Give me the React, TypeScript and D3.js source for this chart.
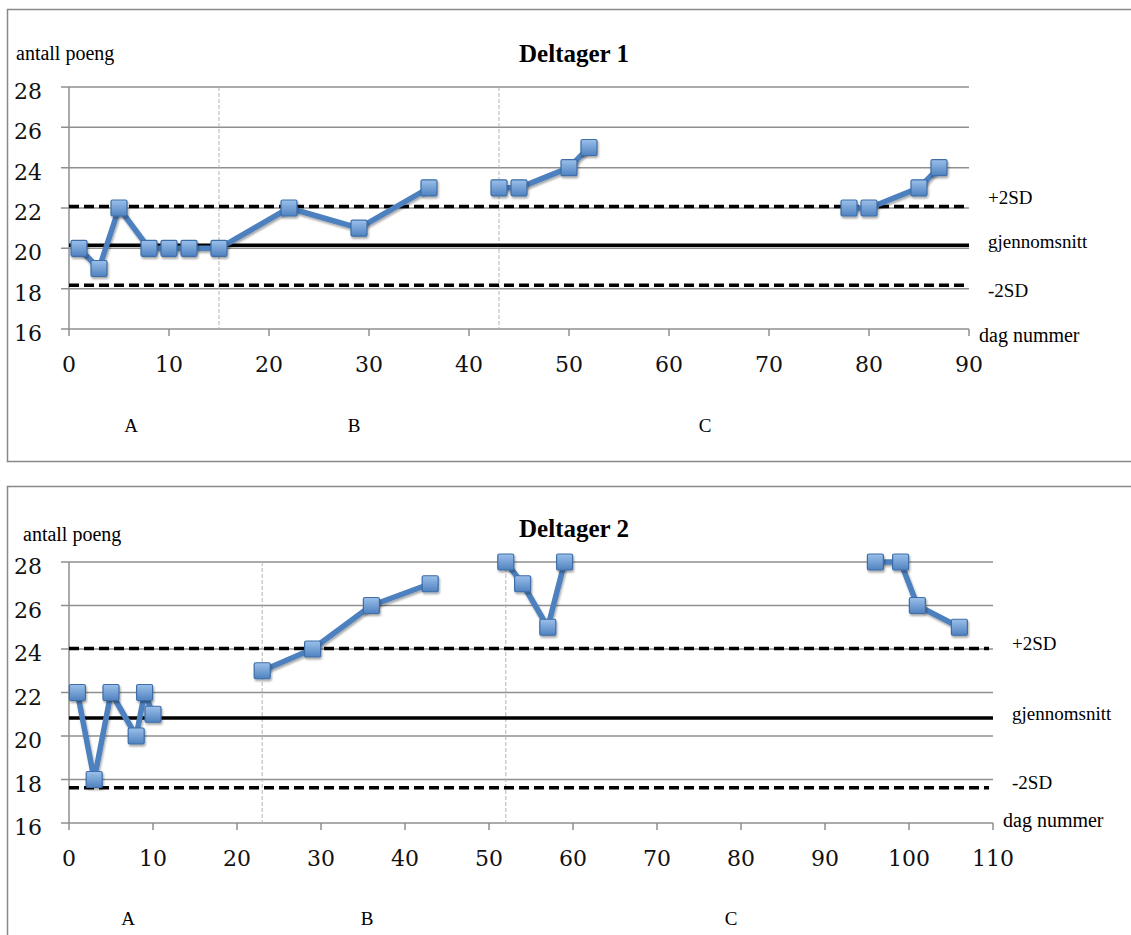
import * as d3 from 'd3';
import React from 'react';

// Deltager 1
const p1Days = [[1, 3, 5, 8, 10, 12, 15, 22, 29, 36], [43, 45, 50, 52], [78, 80, 85, 87]];
const p1Scores = [[20, 19, 22, 20, 20, 20, 20, 22, 21, 23], [23, 23, 24, 25], [22, 22, 23, 24]];
const p1PhaseStarts = [15, 43];
const p1Mean = 20.15;
const p1Plus2SD = 22.07;
const p1Minus2SD = 18.17;
const p1XTicks = [0, 10, 20, 30, 40, 50, 60, 70, 80, 90];

// Deltager 2
const p2Days = [[1, 3, 5, 8, 9, 10], [23, 29, 36, 43], [52, 54, 57, 59], [96, 99, 101, 106]];
const p2Scores = [[22, 18, 22, 20, 22, 21], [23, 24, 26, 27], [28, 27, 25, 28], [28, 28, 26, 25]];
const p2PhaseStarts = [23, 52];
const p2Mean = 20.83;
const p2Plus2SD = 24.02;
const p2Minus2SD = 17.62;
const p2XTicks = [0, 10, 20, 30, 40, 50, 60, 70, 80, 90, 100, 110];

const yTicks = [16, 18, 20, 22, 24, 26, 28];
const phaseNames = ['A', 'B', 'C'];

const GRID = '#8f8f8f';
const LINE = '#4d80be';
const TICK_FONT = '"DejaVu Serif", serif';
const TEXT_FONT = '"Liberation Serif", "Times New Roman", serif';

interface PanelProps {
  title: string;
  days: number[][];
  scores: number[][];
  phaseStarts: number[];
  mean: number;
  plus: number;
  minus: number;
  xTicks: number[];
  layout: {
    boxY: number; boxH: number;
    x0: number; x1: number; yTop: number; yBot: number;
    titleY: number; yLabelX: number; yLabelY: number;
    tickLabelY: number; phaseLabelY: number; phaseLabelX: number[];
    sideX: number; sideY: number[]; dagX: number; dagY: number;
  };
}

const Panel: React.FC<PanelProps> = ({ title, days, scores, phaseStarts, mean, plus, minus, xTicks, layout: L }) => {
  const x = d3.scaleLinear().domain([0, xTicks[xTicks.length - 1]]).range([L.x0, L.x1]);
  const y = d3.scaleLinear().domain([16, 28]).range([L.yBot, L.yTop]);
  const line = d3.line<[number, number]>().x(d => x(d[0])).y(d => y(d[1]));

  return (
    <g>
      <rect x={7.5} y={L.boxY} width={1140} height={L.boxH} fill="white" stroke="#888" strokeWidth={1.5} />
      {/* gridlines + y ticks */}
      {yTicks.map(t => (
        <g key={t}>
          <line x1={L.x0 - 8} x2={L.x1} y1={y(t)} y2={y(t)} stroke={GRID} strokeWidth={1.5} />
          <text x={42} y={y(t) + 12} textAnchor="end" fontFamily={TICK_FONT} fontSize={22} fill="#111">{t}</text>
        </g>
      ))}
      {/* y axis */}
      <line x1={L.x0} x2={L.x0} y1={L.yTop} y2={L.yBot} stroke={GRID} strokeWidth={1.5} />
      {/* x ticks */}
      {xTicks.map(t => (
        <g key={t}>
          <line x1={x(t)} x2={x(t)} y1={L.yBot} y2={L.yBot + 7} stroke={GRID} strokeWidth={1.5} />
          <text x={x(t)} y={L.tickLabelY} textAnchor="middle" fontFamily={TICK_FONT} fontSize={22} fill="#111">{t}</text>
        </g>
      ))}
      {/* phase separators */}
      {phaseStarts.map(p => (
        <line key={p} x1={x(p)} x2={x(p)} y1={L.yTop} y2={L.yBot} stroke="#b5b5b5" strokeWidth={1} strokeDasharray="4,2" />
      ))}
      {/* control lines */}
      <line x1={L.x0} x2={L.x1 - 4} y1={y(plus)} y2={y(plus)} stroke="#000" strokeWidth={3.5} strokeDasharray="10,5" />
      <line x1={L.x0} x2={L.x1} y1={y(mean)} y2={y(mean)} stroke="#000" strokeWidth={3.5} />
      <line x1={L.x0} x2={L.x1 - 4} y1={y(minus)} y2={y(minus)} stroke="#000" strokeWidth={3.5} strokeDasharray="10,5" />
      {/* series */}
      {days.map((seg, i) => (
        <path key={i} d={line(seg.map((d, j) => [d, scores[i][j]] as [number, number])) || ''}
          fill="none" stroke={LINE} strokeWidth={5.5} strokeLinejoin="round" filter="url(#shadow)" />
      ))}
      {days.map((seg, i) => seg.map((d, j) => (
        <rect key={`${i}-${j}`} x={x(d) - 8} y={y(scores[i][j]) - 8} width={16} height={16} rx={1.5}
          fill="url(#markerFill)" stroke="#3d6ea8" strokeWidth={1.2} filter="url(#shadow)" />
      )))}
      {/* texts */}
      <text x={574} y={L.titleY} textAnchor="middle" fontFamily={TEXT_FONT} fontWeight="bold" fontSize={25} fill="#000">{title}</text>
      <text x={L.yLabelX} y={L.yLabelY} fontFamily={TEXT_FONT} fontSize={20} fill="#000">antall poeng</text>
      <text x={L.dagX} y={L.dagY} fontFamily={TEXT_FONT} fontSize={20} fill="#000">dag nummer</text>
      {['+2SD', 'gjennomsnitt', '-2SD'].map((s, i) => (
        <text key={s} x={L.sideX} y={L.sideY[i]} fontFamily={TEXT_FONT} fontSize={19} fill="#000">{s}</text>
      ))}
      {phaseNames.map((n, i) => (
        <text key={n} x={L.phaseLabelX[i]} y={L.phaseLabelY} textAnchor="middle" fontFamily={TEXT_FONT} fontSize={19} fill="#000">{n}</text>
      ))}
    </g>
  );
};

export default function App() {
  return (
    <div style={{ position: 'absolute', left: 0, top: 0, background: 'white' }}>
      <svg width={1131} height={935} style={{ display: 'block' }}>
        <defs>
          <linearGradient id="markerFill" x1="0" y1="0" x2="0" y2="1">
            <stop offset="0%" stopColor="#9cc0ea" />
            <stop offset="100%" stopColor="#4f82c0" />
          </linearGradient>
          <filter id="shadow" x="-30%" y="-30%" width="160%" height="160%">
            <feDropShadow dx={1} dy={2} stdDeviation={1.3} floodColor="#000" floodOpacity={0.35} />
          </filter>
        </defs>
        <rect width={1131} height={935} fill="white" />
        <Panel title="Deltager 1" days={p1Days} scores={p1Scores} phaseStarts={p1PhaseStarts}
          mean={p1Mean} plus={p1Plus2SD} minus={p1Minus2SD} xTicks={p1XTicks}
          layout={{
            boxY: 9.5, boxH: 452, x0: 69, x1: 969, yTop: 87, yBot: 329,
            titleY: 62, yLabelX: 16, yLabelY: 60, tickLabelY: 372, phaseLabelY: 432,
            phaseLabelX: [131, 354, 705], sideX: 988, sideY: [204, 248, 297], dagX: 979, dagY: 342,
          }} />
        <Panel title="Deltager 2" days={p2Days} scores={p2Scores} phaseStarts={p2PhaseStarts}
          mean={p2Mean} plus={p2Plus2SD} minus={p2Minus2SD} xTicks={p2XTicks}
          layout={{
            boxY: 486.5, boxH: 460, x0: 69, x1: 993, yTop: 562, yBot: 823,
            titleY: 537, yLabelX: 23, yLabelY: 541, tickLabelY: 866, phaseLabelY: 925,
            phaseLabelX: [128, 367, 731], sideX: 1012, sideY: [650, 720, 789], dagX: 1003, dagY: 827,
          }} />
      </svg>
    </div>
  );
}
